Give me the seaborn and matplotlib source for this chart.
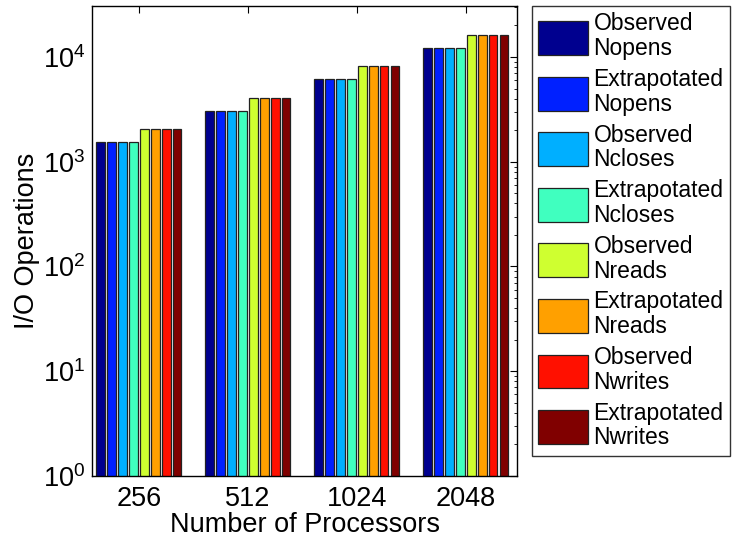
import numpy as np
import pandas as pd
import matplotlib
matplotlib.use('Agg')
import matplotlib.pyplot as plt
from matplotlib.patches import Patch
from matplotlib.ticker import LogLocator
import seaborn as sns

# data
processors = ['256', '512', '1024', '2048']
series = ['Observed\nNopens', 'Extrapotated\nNopens',
          'Observed\nNcloses', 'Extrapotated\nNcloses',
          'Observed\nNreads', 'Extrapotated\nNreads',
          'Observed\nNwrites', 'Extrapotated\nNwrites']
obs_nopens = [1536, 3072, 6144, 12288]
ext_nopens = [1536, 3072, 6144, 12288]
obs_ncloses = [1536, 3072, 6144, 12288]
ext_ncloses = [1536, 3072, 6144, 12288]
obs_nreads = [2048, 4096, 8192, 16384]
ext_nreads = [2048, 4096, 8192, 16384]
obs_nwrites = [2048, 4096, 8192, 16384]
ext_nwrites = [2048, 4096, 8192, 16384]

values = [obs_nopens, ext_nopens, obs_ncloses, ext_ncloses,
          obs_nreads, ext_nreads, obs_nwrites, ext_nwrites]

rows = []
for name, vals in zip(series, values):
    for p, v in zip(processors, vals):
        rows.append({'proc': p, 'series': name, 'ops': v})
df = pd.DataFrame(rows)

colors = ['#00008f', '#0020ff', '#00afff', '#40ffbf',
          '#cfff30', '#ffa000', '#ff1000', '#800000']

sns.set_style('white')
plt.rcParams['font.family'] = ['Liberation Sans', 'DejaVu Sans']
plt.rcParams['mathtext.default'] = 'regular'
plt.rcParams['text.color'] = 'black'
plt.rcParams['axes.labelcolor'] = 'black'
plt.rcParams['xtick.color'] = 'black'
plt.rcParams['ytick.color'] = 'black'

fig = plt.figure(figsize=(7.37, 5.43), dpi=100)
ax = fig.add_axes([0.125, 0.1234, 0.5765, 0.8656])

sns.barplot(data=df, x='proc', y='ops', hue='series', order=processors,
            hue_order=series, palette=colors, saturation=1, width=0.8, gap=0.2,
            ax=ax, edgecolor='#222222', linewidth=0.9, legend=False,
            log_scale=(False, True))

ax.set_yscale('log')
ax.set_ylim(1, 3.07e4)
ax.set_xlim(-0.43, 3.47)
ax.yaxis.set_minor_locator(LogLocator(base=10, subs=np.arange(2, 10)))
ax.tick_params(axis='both', which='both', direction='in', top=True, right=True,
               labelsize=19.5, colors='black')
ax.tick_params(axis='both', which='major', length=5, width=0.8)
ax.tick_params(axis='y', which='minor', length=2.5, width=0.6)
ax.tick_params(axis='x', which='major', pad=7)
ax.tick_params(axis='y', which='major', pad=5)
for s in ax.spines.values():
    s.set_color('black')
    s.set_linewidth(1.0)

ax.set_xlabel('Number of Processors', fontsize=19.5, labelpad=0, color='black')
ax.set_ylabel('I/O Operations', fontsize=19.5, labelpad=2, color='black')

handles = [Patch(facecolor=c, edgecolor='#222222', linewidth=0.9) for c in colors]
leg = fig.legend(handles, series, loc='upper left',
                 bbox_to_anchor=(532 / 737, 1 - 6 / 543),
                 fontsize=16.5, frameon=True, fancybox=False,
                 handlelength=2.15, handleheight=1.9, handletextpad=0.25,
                 labelspacing=0.34, borderpad=0.28, borderaxespad=0)
leg.get_frame().set_edgecolor('black')
leg.get_frame().set_linewidth(1.0)
for t in leg.get_texts():
    t.set_linespacing(1.1)
    t.set_color('black')

fig.savefig('out.png', dpi=100)
